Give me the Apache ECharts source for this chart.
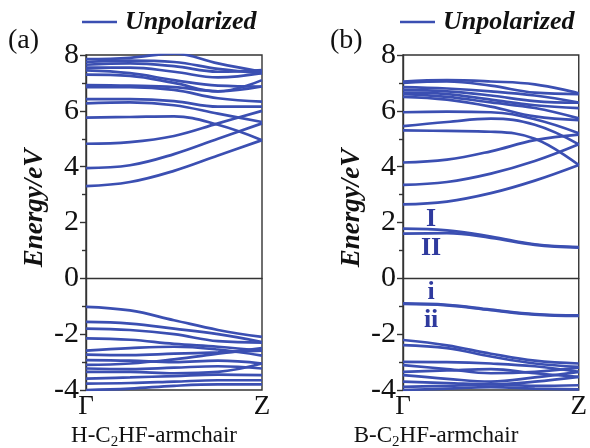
<!DOCTYPE html>
<html><head><meta charset="utf-8">
<script src="https://cdn.jsdelivr.net/npm/echarts@6/dist/echarts.min.js"></script>
<style>html,body{margin:0;padding:0;background:#fff}#c{width:590px;height:448px}</style>
</head><body><div id="c"></div>
<script>
// k-path sample points (Γ = 0, Z = 1)
const kPoints = [0, 0.25, 0.5, 0.75, 1];
const kTickLabels = ['Γ', 'Z'];
const yTicks = {min: -4, max: 8, interval: 2};

// Panel (a): H-C2HF-armchair
const hConduction = [
  [3.30, 3.45, 3.85, 4.40, 4.95],
  [3.95, 4.05, 4.45, 5.00, 5.55],
  [4.82, 4.88, 5.10, 5.55, 6.00],
  [5.76, 5.78, 5.80, 5.50, 4.95],
  [6.27, 6.30, 6.20, 5.90, 5.60],
  [6.42, 6.42, 6.35, 6.15, 6.15],
  [6.85, 6.85, 6.75, 6.45, 6.33],
  [6.92, 6.90, 6.85, 6.70, 6.87],
  [7.30, 7.25, 7.00, 6.70, 7.10],
  [7.45, 7.35, 7.10, 6.90, 6.87],
  [7.55, 7.55, 7.40, 7.20, 7.35],
  [7.65, 7.70, 7.60, 7.40, 7.46],
  [7.75, 7.80, 7.75, 7.50, 7.35],
  [7.85, 7.90, 8.05, 7.70, 7.40]
];
const hValence = [
  [-1.02, -1.15, -1.50, -1.85, -2.10],
  [-1.56, -1.62, -1.80, -2.00, -2.28],
  [-1.80, -1.85, -2.00, -2.25, -2.30],
  [-2.15, -2.20, -2.35, -2.45, -2.59],
  [-2.59, -2.50, -2.45, -2.55, -2.77],
  [-2.73, -2.75, -2.70, -2.65, -2.59],
  [-2.93, -2.95, -3.00, -2.95, -3.05],
  [-3.10, -3.05, -2.90, -2.70, -2.50],
  [-3.23, -3.25, -3.20, -3.15, -3.23],
  [-3.35, -3.35, -3.40, -3.35, -3.05],
  [-3.59, -3.55, -3.50, -3.45, -3.47],
  [-3.77, -3.75, -3.70, -3.65, -3.65],
  [-4.00, -3.95, -3.85, -3.80, -3.80]
];

// Panel (b): B-C2HF-armchair
const bConduction = [
  [2.65, 2.75, 3.05, 3.50, 4.06],
  [3.35, 3.45, 3.75, 4.20, 4.80],
  [4.15, 4.25, 4.55, 4.95, 5.15],
  [5.30, 5.28, 5.25, 5.00, 4.06],
  [5.45, 5.60, 5.72, 5.50, 4.80],
  [5.95, 5.97, 5.95, 5.70, 5.20],
  [6.50, 6.40, 6.15, 5.80, 5.67],
  [6.60, 6.50, 6.30, 6.10, 5.73],
  [6.65, 6.60, 6.40, 6.20, 6.10],
  [6.75, 6.70, 6.55, 6.35, 6.29],
  [6.85, 6.80, 6.70, 6.55, 6.30],
  [7.00, 7.05, 6.90, 6.65, 6.60],
  [7.05, 7.10, 7.05, 6.95, 6.63]
];
const bGapBands = [
  [1.78, 1.72, 1.50, 1.22, 1.12],
  [1.60, 1.62, 1.45, 1.20, 1.10],
  [-0.90, -0.95, -1.12, -1.28, -1.33],
  [-0.92, -0.97, -1.14, -1.30, -1.35]
];
const bValence = [
  [-2.21, -2.40, -2.70, -2.95, -3.05],
  [-2.39, -2.50, -2.80, -3.05, -3.17],
  [-2.99, -3.00, -3.05, -3.15, -3.35],
  [-3.11, -3.25, -3.40, -3.35, -3.20],
  [-3.35, -3.30, -3.25, -3.40, -3.53],
  [-3.47, -3.60, -3.70, -3.55, -3.35],
  [-3.70, -3.75, -3.80, -3.70, -3.53],
  [-3.89, -3.85, -3.80, -3.85, -3.83],
  [-4.00, -3.95, -3.90, -3.95, -3.98]
];
// band annotations in panel (b): [label, k, energy]
const bandLabels = [['I', 0.16, 2.12], ['II', 0.16, 1.08], ['i', 0.16, -0.5], ['ii', 0.16, -1.5]];

const panelTitles = ['(a)', '(b)'];
const legendName = 'Unpolarized';

const LINE = '#3b4fb2';
const SERIF = '"Liberation Serif","DejaVu Serif",serif';

function bandSeries(bands, idx) {
  return bands.map(b => ({
    type: 'line', xAxisIndex: idx, yAxisIndex: idx, smooth: 0.4,
    symbol: 'none', silent: true,
    lineStyle: {color: LINE, width: 2.7},
    data: b.map((e, i) => [kPoints[i], e])
  }));
}

const grids = [
  {left: 86, top: 55, width: 176, height: 335},
  {left: 403, top: 55, width: 176, height: 335}
].map(g => Object.assign(g, {show: true, borderColor: '#333', borderWidth: 1.4, backgroundColor: 'transparent'}));

const xAxes = [0, 1].map(i => ({
  type: 'value', gridIndex: i, min: 0, max: 1, interval: 1,
  axisLine: {show: true, lineStyle: {color: '#333', width: 1.4}},
  axisTick: {show: false}, splitLine: {show: false},
  axisLabel: {formatter: v => v === 0 ? kTickLabels[0] : kTickLabels[1], fontFamily: SERIF, fontSize: 27, color: '#111', margin: 3}
}));
const yAxes = [0, 1].map(i => ({
  type: 'value', gridIndex: i, min: yTicks.min, max: yTicks.max, interval: yTicks.interval,
  axisLine: {show: true, lineStyle: {color: '#333', width: 1.4}},
  axisTick: {show: true, inside: false, length: 6, lineStyle: {color: '#333', width: 1.4}},
  minorTick: {show: true, splitNumber: 2, length: 4, lineStyle: {color: '#333', width: 1.4}},
  splitLine: {show: false},
  axisLabel: {fontFamily: SERIF, fontSize: 30, color: '#111', margin: 7}
}));

const series = [].concat(
  bandSeries(hConduction, 0), bandSeries(hValence, 0),
  bandSeries(bConduction, 1), bandSeries(bGapBands, 1), bandSeries(bValence, 1),
  [{
    type: 'scatter', xAxisIndex: 1, yAxisIndex: 1, symbolSize: 0, silent: true,
    itemStyle: {opacity: 1},
    data: bandLabels.map(l => ({value: [l[1], l[2]], name: l[0]})),
    label: {show: true, position: 'inside', formatter: p => p.name, opacity: 1,
      fontFamily: SERIF, fontWeight: 'bold', fontSize: 26, color: '#2f3a9e', textBorderWidth: 0}
  }]
);

function sideTexts(x0, title, yName, sub, legendX) {
  return [
    {type: 'text', left: x0, top: 27, style: {text: title, font: '28px ' + SERIF, fill: '#111'}},
    {type: 'line', shape: {x1: legendX, y1: 22, x2: legendX + 35, y2: 22}, style: {stroke: LINE, lineWidth: 2.5}},
    {type: 'text', x: legendX + 43, y: 22, style: {text: legendName, font: 'italic bold 26px ' + SERIF, fill: '#111', textVerticalAlign: 'middle'}},
    {type: 'text', x: yName, y: 208, rotation: Math.PI / 2,
      style: {text: 'Energy/eV', font: 'italic bold 27px ' + SERIF, fill: '#111', textAlign: 'center', textVerticalAlign: 'middle'}},
    {type: 'text', x: sub[0], y: 436, style: {
      text: '{n|' + sub[1] + '-C}{s|2}{n|HF-armchair}', textAlign: 'center', textVerticalAlign: 'middle',
      rich: {n: {fontFamily: SERIF, fontSize: 23, fill: '#111'}, s: {fontFamily: SERIF, fontSize: 15, fill: '#111', padding: [12, 0, 0, 0]}}
    }}
  ];
}

const chart = echarts.init(document.getElementById('c'), null, {renderer: 'canvas'});
chart.setOption({
  animation: false,
  backgroundColor: '#fff',
  grid: grids, xAxis: xAxes, yAxis: yAxes, series: series,
  graphic: [].concat(
    sideTexts(8, panelTitles[0], 35, [154, 'H'], 82),
    sideTexts(330, panelTitles[1], 352, [436, 'B'], 400)
  )
});
</script></body></html>
